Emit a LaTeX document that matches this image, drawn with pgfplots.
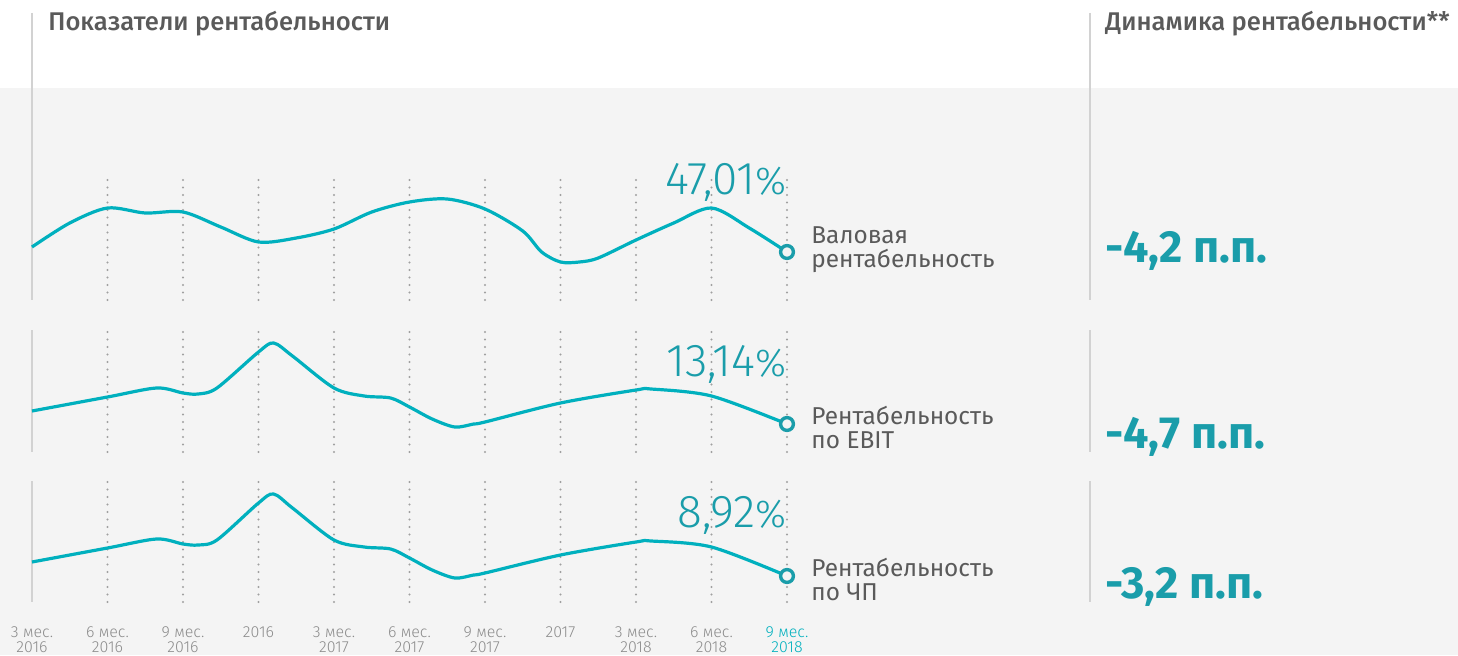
\documentclass[border=0pt]{standalone}
\usepackage{fontspec}
\setmainfont{Fira Sans}
\newfontfamily\lightfont{Fira Sans Light}
\newfontfamily\medfont{Fira Sans Medium}
\usepackage{pgfplots}
\pgfplotsset{compat=1.18}
\definecolor{Bg}{HTML}{F4F4F4}
\definecolor{Curve}{HTML}{00B0BE}
\definecolor{Teal}{HTML}{1A9DAA}
\definecolor{Ink}{HTML}{5A5A5A}
\definecolor{TickGray}{HTML}{8C8C8C}
\definecolor{Rule}{HTML}{D2D2D2}
\definecolor{Dots}{HTML}{A0A0A0}

% values are heights above each panel's floor (1 unit = 1px of the reference)
\pgfplotstableread{
x    gross
0    53
0.5  77
1    92
1.5  87
2    88
2.5  73
3    58
3.5  62
4    71
4.5  88
5    98
5.5  101
6    91
6.5  69
6.75 48
7    38
7.25 38
7.5  42
8    60
8.5  77
9    92
9.5  72
10   48
}\grossdata
\pgfplotstableread{
x    ebit   net
0    41     40
1    55     54
1.65 64     63
2    59     58
2.2  58     57
2.45 64     62
3    100    99
3.2  109    108
3.45 96     94
4    64     62
4.4  56     55
4.75 54     53
5    45     44
5.3  33     32
5.6  25     24
5.85 28     27
6    30     29
7    49     47
8    62     60
8.2  63     61
9    56     55
10   28     26
}\otherdata

\pgfplotsset{
  spark/.style={
    scale only axis, width=377.5pt,
    xmin=0, xmax=10,
    axis line style={draw=none},
    ytick=\empty, xtick={1,...,10}, major tick length=0pt,
    xmajorgrids,
    major grid style={draw=Dots, line width=1.2pt, line cap=round, dash pattern=on 0pt off 3.75pt},
    xticklabels={},
    clip=false,
  },
  curve/.style={Curve, line width=1.6pt, smooth, no markers},
  endmark/.style={only marks, mark=*, mark size=3.2pt,
    mark options={draw=Teal, fill=Bg, line width=1.7pt}},
}

\begin{document}
\begin{tikzpicture}[x=0.5pt,y=0.5pt]
\useasboundingbox (0,0) rectangle (1458,655);
\fill[Bg] (0,0) rectangle (1458,567);

% rules
\draw[Rule, line width=0.75pt] (32,642) -- (32,355) (32,325) -- (32,203) (32,174) -- (32,53);
\draw[Rule, line width=0.75pt] (1090,642) -- (1090,355) (1090,325) -- (1090,203) (1090,174) -- (1090,53);

% headings
\node[anchor=base west, inner sep=0pt, text=Ink, font=\medfont\fontsize{12.8}{14}\selectfont] at (48,624) {Показатели рентабельности};
\node[anchor=base west, inner sep=0pt, text=Ink, font=\medfont\fontsize{12.8}{14}\selectfont] at (1105,624) {Динамика рентабельности**};

% panel 1
\begin{axis}[spark, at={(16pt,177.5pt)}, anchor=south west, height=61pt, ymin=0, ymax=122]
\addplot[curve] table[x=x, y=gross] {\grossdata};
\addplot[endmark] coordinates {(10,48)};
\end{axis}

% panel 2
\begin{axis}[spark, at={(16pt,101.5pt)}, anchor=south west, height=61pt, ymin=0, ymax=122]
\addplot[curve] table[x=x, y=ebit] {\otherdata};
\addplot[endmark] coordinates {(10,28)};
\end{axis}

% panel 3
\begin{axis}[spark, at={(16pt,26.5pt)}, anchor=south west, height=60.5pt, ymin=0, ymax=121,
  xticklabels={{6 мес.\\2016},{9 мес.\\2016},2016,{3 мес.\\2017},{6 мес.\\2017},{9 мес.\\2017},2017,{3 мес.\\2018},{6 мес.\\2018},{\textcolor{Curve}{9 мес.}\\\textcolor{Curve}{2018}}},
  extra x ticks={0}, extra x tick labels={{3 мес.\\2016}},
  extra x tick style={grid=none},
  xticklabel style={align=center, text=TickGray, anchor=north, yshift=-9pt,
    font=\lightfont\fontsize{8}{7.5}\selectfont},
]
\addplot[curve] table[x=x, y=net] {\otherdata};
\addplot[endmark] coordinates {(10,26)};
\end{axis}

% value labels
\begin{scope}[every node/.style={anchor=base east, inner sep=0pt, text=Teal, font=\lightfont\fontsize{23}{26}\selectfont}]
\node at (787,460) {47,01{\fontsize{19.5}{22}\selectfont\%}};
\node at (787,279) {13,14{\fontsize{19.5}{22}\selectfont\%}};
\node at (787,128) {8,92{\fontsize{19.5}{22}\selectfont\%}};
\end{scope}

% series names
\begin{scope}[every node/.style={anchor=base west, inner sep=0pt, text=Ink, font=\fontsize{12.2}{14}\selectfont}]
\node at (811,412) {Валовая};
\node at (811,388) {рентабельность};
\node at (811,231) {Рентабельность};
\node at (811,207) {по EBIT};
\node at (811,79) {Рентабельность};
\node at (811,55) {по ЧП};
\end{scope}

% change
\begin{scope}[every node/.style={anchor=base west, inner sep=0pt, text=Teal, font=\bfseries\fontsize{22.5}{26}\selectfont}]
\node at (1105,393) {-4,2 п.п.};
\node at (1105,207) {-4,7 п.п.};
\node at (1105,57) {-3,2 п.п.};
\end{scope}
\end{tikzpicture}
\end{document}
